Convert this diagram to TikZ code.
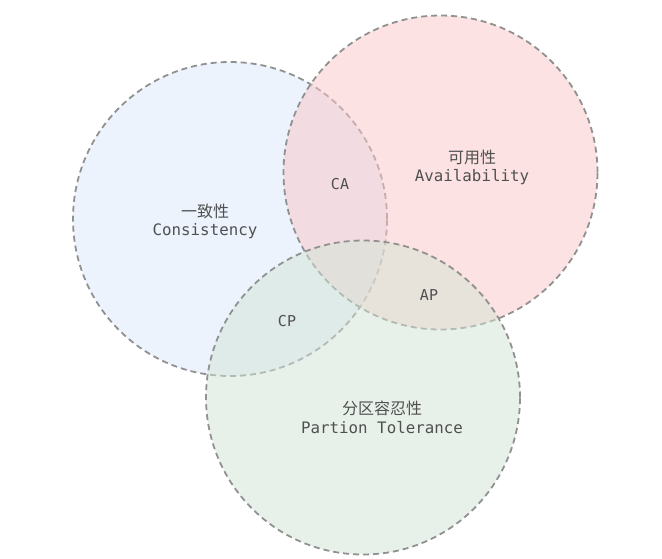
\documentclass[tikz,border=0pt]{standalone}
\usepackage{fontspec}
\setmonofont{DejaVu Sans Mono}
\newfontfamily\cjk{Noto Sans CJK SC}
\definecolor{cblue}{RGB}{218,232,253}
\definecolor{cpink}{RGB}{251,199,199}
\definecolor{cgreen}{RGB}{211,229,213}
\definecolor{edge}{RGB}{145,145,145}
\definecolor{txt}{RGB}{80,80,80}
\tikzset{
  setcircle/.style={circle, minimum size=314pt, inner sep=0pt, draw=edge, line width=1.8pt,
    dash pattern=on 6pt off 4pt, fill opacity=0.5},
  zh/.style={text=txt, font=\cjk\fontsize{16}{18}\selectfont},
  en/.style={text=txt, font=\ttfamily\fontsize{15.8}{18}\selectfont},
  pair/.style={text=txt, font=\ttfamily\fontsize{15}{18}\selectfont},
}
\begin{document}
\begin{tikzpicture}[x=1pt,y=-1pt]
\useasboundingbox[fill=white] (0,0) rectangle (662,558);
\node[setcircle, fill=cblue] (c) at (230,219) {};
\node[setcircle, fill=cpink] (a) at (440.5,172.5) {};
\node[setcircle, fill=cgreen] (p) at (363,397.5) {};
\node[zh] (czh) at (205,211) {一致性};
\node[en] (cen) at (205,231) {Consistency};
\node[zh] (azh) at (472,157) {可用性};
\node[en] (aen) at (472,177) {Availability};
\node[zh] (pzh) at (382,408) {分区容忍性};
\node[en] (pen) at (382,428) {Partion Tolerance};
\node[pair] (ca) at (340,184) {CA};
\node[pair] (ap) at (429,295) {AP};
\node[pair] (cp) at (287,321) {CP};
\end{tikzpicture}
\end{document}
